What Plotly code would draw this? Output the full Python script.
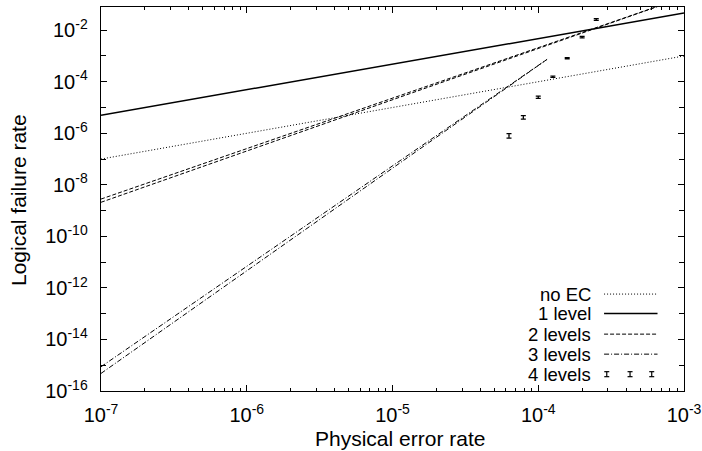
import plotly.graph_objects as go

# ---------------- data ----------------
p_ends = [1e-7, 1e-3]
no_ec = [1e-7, 1e-3]
level1 = [5.0e-6, 4.6e-2]
level2_upper = [2.8e-9, 0.19]
level2_lower = [2.1e-9, 0.19]
p3_ends = [1e-7, 1.15e-4]
level3_upper = [8.7e-16, 7.4e-4]
level3_lower = [4.8e-16, 7.4e-4]
p4 = [6.3e-5, 7.9e-5, 1.0e-4, 1.26e-4, 1.58e-4, 2.0e-4, 2.5e-4]
f4 = [8.1e-7, 4.2e-6, 2.5e-5, 1.55e-4, 8.2e-4, 5.4e-3, 2.6e-2]
f4_err = [1.6e-7, 6.5e-7, 2.5e-6, 9e-6, 4.5e-5, 4e-4, 2e-3]

legend_labels = ["no EC", "1 level", "2 levels", "3 levels", "4 levels"]

y_major = [10.0 ** k for k in range(-16, -1, 2)]
y_major_text = ["10<sup>%d</sup>" % k for k in range(-16, -1, 2)]
y_minor = [10.0 ** k for k in range(-15, -1, 2)]
x_major = [10.0 ** k for k in range(-7, -2)]
x_major_text = ["10<sup>%d</sup>" % k for k in range(-7, -2)]
x_minor = [m * 10.0 ** k for k in range(-7, -3) for m in range(2, 10)]

FONT = "Liberation Sans, Arial, Helvetica, sans-serif"
TICK_FS = 20
LEG_FS = 18.5
TITLE_FS = 21
BLACK = "black"

DOT = "1px,2px"
DASH = "4px,2px"
DASHDOT = "5px,2px,1px,2px"

fig = go.Figure()
fig.add_trace(go.Scatter(x=p_ends, y=no_ec, mode="lines",
                         line=dict(color=BLACK, width=1, dash=DOT), showlegend=False))
fig.add_trace(go.Scatter(x=p_ends, y=level1, mode="lines",
                         line=dict(color=BLACK, width=1.5), showlegend=False))
fig.add_trace(go.Scatter(x=p_ends, y=level2_upper, mode="lines",
                         line=dict(color=BLACK, width=1, dash=DASH), showlegend=False))
fig.add_trace(go.Scatter(x=p_ends, y=level2_lower, mode="lines",
                         line=dict(color=BLACK, width=1, dash=DASH), showlegend=False))
fig.add_trace(go.Scatter(x=p3_ends, y=level3_upper, mode="lines",
                         line=dict(color=BLACK, width=1, dash=DASHDOT), showlegend=False))
fig.add_trace(go.Scatter(x=p3_ends, y=level3_lower, mode="lines",
                         line=dict(color=BLACK, width=1, dash=DASHDOT), showlegend=False))
fig.add_trace(go.Scatter(x=p4, y=f4, mode="markers",
                         marker=dict(color=BLACK, size=1),
                         error_y=dict(type="data", array=f4_err, visible=True,
                                      color=BLACK, thickness=1.2, width=2.5),
                         showlegend=False))

# ---------------- custom legend (text left of sample, as in gnuplot) ----------------
L, R, T, B = 100.5, 684.0, 7.3, 390.8
W, H = R - L, B - T
def px(x):
    return (x - L) / W
def py(y):
    return (B - y) / H

rows = [294, 313.5, 334, 354, 374]
styles = [dict(dash=DOT, width=1), dict(width=1.5), dict(dash=DASH, width=1),
          dict(dash=DASHDOT, width=1)]
annotations = []
shapes = []
for i, lab in enumerate(legend_labels):
    annotations.append(dict(x=px(593), y=py(rows[i]), xref="paper", yref="paper",
                            text=lab, showarrow=False, xanchor="right", yanchor="middle",
                            font=dict(family=FONT, size=LEG_FS, color=BLACK)))
    if i < 4:
        shapes.append(dict(type="line", xref="paper", yref="paper",
                           x0=px(604), x1=px(657.5), y0=py(rows[i]), y1=py(rows[i]),
                           line=dict(color=BLACK, **styles[i])))
for cx in [606.7, 630, 651.7]:
    cy = rows[4]
    shapes.append(dict(type="line", xref="paper", yref="paper",
                       x0=px(cx), x1=px(cx), y0=py(cy - 2.5), y1=py(cy + 2.5),
                       line=dict(color=BLACK, width=1.2)))
    for dy in (-2.5, 2.5):
        shapes.append(dict(type="line", xref="paper", yref="paper",
                           x0=px(cx - 2.5), x1=px(cx + 2.5), y0=py(cy + dy), y1=py(cy + dy),
                           line=dict(color=BLACK, width=1.2)))

# axis titles as annotations for exact placement
annotations.append(dict(x=px(400), y=py(438), xref="paper", yref="paper",
                        text="Physical error rate", showarrow=False,
                        xanchor="center", yanchor="middle",
                        font=dict(family=FONT, size=TITLE_FS, color=BLACK)))
annotations.append(dict(x=px(18.5), y=py(200), xref="paper", yref="paper",
                        text="Logical failure rate", showarrow=False, textangle=-90,
                        xanchor="center", yanchor="middle",
                        font=dict(family=FONT, size=TITLE_FS, color=BLACK)))

axis_common = dict(
    showline=True, linecolor=BLACK, linewidth=1.3, mirror="ticks",
    ticks="inside", tickcolor=BLACK, tickwidth=1, ticklen=6,
    showgrid=False, zeroline=False, automargin=False,
    tickfont=dict(family=FONT, size=TICK_FS, color=BLACK),
)

fig.update_layout(
    width=702, height=451,
    margin=dict(l=100.5, r=18, t=7.3, b=60.2, autoexpand=False),
    plot_bgcolor="white", paper_bgcolor="white",
    font=dict(family=FONT, size=TICK_FS, color=BLACK),
    showlegend=False,
    hovermode=False,
    xaxis=dict(type="log", range=[-7, -3], tickmode="array",
               tickvals=x_major, ticktext=x_major_text,
               minor=dict(tickvals=x_minor, ticks="inside", ticklen=3,
                          tickcolor=BLACK, tickwidth=1, showgrid=False),
               ticklabelstandoff=6,
               **axis_common),
    yaxis=dict(type="log", range=[-16, -1.1], tickmode="array",
               tickvals=y_major, ticktext=y_major_text,
               minor=dict(tickvals=y_minor, ticks="inside", ticklen=5,
                          tickcolor=BLACK, tickwidth=1, showgrid=False),
               ticklabelstandoff=8,
               **axis_common),
    annotations=annotations,
    shapes=shapes,
)

fig.write_html(
    "out.html",
    config={"displayModeBar": False, "staticPlot": True},
    post_script="document.body.style.margin='0px';document.body.style.overflow='hidden';",
)
